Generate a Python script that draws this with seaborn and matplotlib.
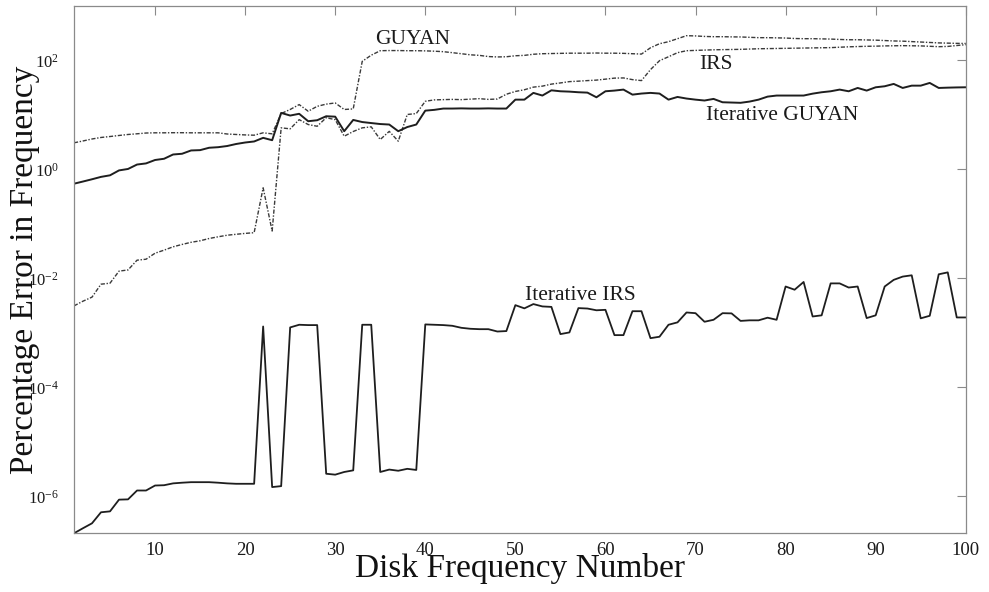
import numpy as np
import pandas as pd
import matplotlib
matplotlib.use("Agg")
import matplotlib.pyplot as plt
import seaborn as sns

# Disk frequency numbers 1..100
freq_number = list(range(1, 101))

# Percentage error in frequency for each reduction method
guyan = [
    3.08, 3.33, 3.62, 3.86, 4.02, 4.2, 4.38, 4.51, 4.66, 4.70,
    4.70, 4.72, 4.72, 4.70, 4.70, 4.70, 4.70, 4.47, 4.38, 4.3,
    4.25, 4.7, 4.5, 10.6, 12.6, 15.5, 11.7, 14.4, 15.8, 16.6,
    12.6, 12.9, 96.3, 125, 151, 152, 152, 151, 151, 150,
    148, 145, 139, 133, 127, 124, 118, 116, 117, 122,
    124, 130, 133, 134, 135, 136, 136, 136, 137, 136,
    136, 135, 133, 131, 171, 203, 221, 251, 285, 282,
    276, 273, 273, 271, 270, 266, 262, 262, 260, 258,
    253, 251, 251, 249, 247, 243, 240, 240, 238, 236,
    232, 228, 226, 222, 218, 214, 210, 208, 206, 205,
]

irs = [
    3.13e-3, 3.82e-3, 4.53e-3, 7.83e-3, 8.17e-3, 1.36e-2, 1.43e-2, 2.16e-2, 2.25e-2, 2.9e-2,
    3.3e-2, 3.8e-2, 4.2e-2, 4.6e-2, 4.9e-2, 5.4e-2, 5.8e-2, 6.2e-2, 6.45e-2, 6.7e-2,
    6.9e-2, 0.46, 7.4e-2, 5.8, 5.56, 8.2, 6.67, 6.2, 8.9, 8.2,
    4.07, 4.97, 5.8, 6.05, 3.54, 5.0, 3.3, 10.2, 10.6, 17.8,
    18.9, 19.1, 19.3, 19.1, 19.5, 19.9, 19.3, 19.6, 24.0, 27.0,
    29.0, 32.4, 33.8, 36.8, 38.7, 40.9, 41.7, 42.7, 43.6, 45.4,
    47.4, 47.8, 44.5, 42.7, 67.9, 99, 117, 139, 151, 153,
    155, 157, 158, 159, 160, 162, 164, 165, 166, 167,
    168, 169, 170, 171, 172, 175, 178, 180, 182, 183,
    185, 186, 187, 186, 185, 182, 179, 181, 188, 195,
]

iterative_guyan = [
    0.547, 0.60, 0.66, 0.73, 0.78, 0.96, 1.02, 1.23, 1.29, 1.49,
    1.57, 1.88, 1.94, 2.23, 2.26, 2.50, 2.56, 2.69, 2.93, 3.12,
    3.26, 3.80, 3.44, 10.9, 9.75, 10.5, 7.67, 8.0, 9.47, 9.3,
    5.03, 8.1, 7.41, 7.1, 6.81, 6.67, 5.03, 6.0, 6.67, 12.0,
    12.4, 13.1, 13.1, 13.2, 13.1, 13.1, 13.2, 13.1, 13.1, 19.1,
    19.1, 25.4, 22.7, 28.3, 27.2, 26.8, 26.1, 25.7, 21.1, 27.2,
    28.0, 29.2, 23.6, 24.7, 25.4, 24.7, 19.1, 21.4, 20.0, 19.1,
    18.4, 19.7, 17.1, 16.9, 16.7, 17.6, 19.1, 21.7, 22.7, 22.7,
    22.7, 22.7, 24.6, 26.1, 27.2, 29.2, 27.2, 31.3, 28.0, 32.2,
    33.6, 37.1, 31.3, 34.5, 34.5, 38.7, 31.3, 31.7, 32.0, 32.2,
]

iterative_irs = [
    2.1e-7, 2.6e-7, 3.2e-7, 5.1e-7, 5.3e-7, 8.7e-7, 8.8e-7, 1.28e-6, 1.28e-6, 1.58e-6,
    1.6e-6, 1.73e-6, 1.78e-6, 1.82e-6, 1.82e-6, 1.82e-6, 1.78e-6, 1.73e-6, 1.7e-6, 1.7e-6,
    1.7e-6, 1.31e-3, 1.48e-6, 1.54e-6, 1.26e-3, 1.41e-3, 1.39e-3, 1.39e-3, 2.6e-6, 2.5e-6,
    2.8e-6, 3.0e-6, 1.41e-3, 1.41e-3, 2.8e-6, 3.1e-6, 2.95e-6, 3.2e-6, 3.05e-6, 1.43e-3,
    1.41e-3, 1.39e-3, 1.35e-3, 1.24e-3, 1.19e-3, 1.17e-3, 1.17e-3, 1.06e-3, 1.08e-3, 3.23e-3,
    2.82e-3, 3.38e-3, 3.06e-3, 3.0e-3, 9.5e-4, 1.02e-3, 2.85e-3, 2.8e-3, 2.6e-3, 2.65e-3,
    9.1e-4, 9.1e-4, 2.5e-3, 2.5e-3, 8.0e-4, 8.5e-4, 1.41e-3, 1.56e-3, 2.37e-3, 2.3e-3,
    1.6e-3, 1.74e-3, 2.3e-3, 2.28e-3, 1.66e-3, 1.7e-3, 1.7e-3, 1.9e-3, 1.74e-3, 7.1e-3,
    6.2e-3, 8.6e-3, 2.0e-3, 2.1e-3, 8.1e-3, 8.1e-3, 6.8e-3, 7.1e-3, 1.87e-3, 2.1e-3,
    7.1e-3, 9.4e-3, 1.08e-2, 1.14e-2, 1.85e-3, 2.06e-3, 1.19e-2, 1.29e-2, 1.92e-3, 1.92e-3,
]

# Axis ticks and labels
x_ticks = [10, 20, 30, 40, 50, 60, 70, 80, 90, 100]
y_ticks = [1e-6, 1e-4, 1e-2, 1e0, 1e2]
y_tick_labels = [r"$10^{-6}$", r"$10^{-4}$", r"$10^{-2}$", r"$10^{0}$", r"$10^{2}$"]

# Curve names written next to each curve: (text, x, y)
curve_names = [
    ("GUYAN", 38.6, 200.0),
    ("IRS", 72.3, 69.9),
    ("Iterative GUYAN", 79.6, 8.0),
    ("Iterative IRS", 57.2, 4.04e-3),
]

sns.set_theme(style="white")
plt.rcParams["font.family"] = ["Liberation Serif", "DejaVu Serif"]
plt.rcParams["mathtext.fontset"] = "custom"
plt.rcParams["mathtext.rm"] = "Liberation Serif"
plt.rcParams["mathtext.it"] = "Liberation Serif:italic"
plt.rcParams["mathtext.bf"] = "Liberation Serif:bold"

df = pd.DataFrame({
    "n": freq_number,
    "GUYAN": guyan,
    "IRS": irs,
    "Iterative GUYAN": iterative_guyan,
    "Iterative IRS": iterative_irs,
})

fig = plt.figure(figsize=(9.89, 5.92), dpi=100)
ax = fig.add_axes([0.0748, 0.0992, 0.9017, 0.8907])

dashdot = (0, (3.0, 1.2, 1.0, 1.2))
sns.lineplot(data=df, x="n", y="GUYAN", ax=ax, color="#3a3a3a", lw=1.0, linestyle=dashdot)
sns.lineplot(data=df, x="n", y="IRS", ax=ax, color="#3a3a3a", lw=1.0, linestyle=dashdot)
sns.lineplot(data=df, x="n", y="Iterative GUYAN", ax=ax, color="#1e1e1e", lw=1.4)
sns.lineplot(data=df, x="n", y="Iterative IRS", ax=ax, color="#1e1e1e", lw=1.3)

ax.set_yscale("log")
ax.set_xlim(1, 100)
ax.set_ylim(iterative_irs[0], 1e3)

ax.set_xticks(x_ticks)
ax.set_yticks(y_ticks)
ax.set_yticklabels(y_tick_labels)
ax.minorticks_off()
ax.tick_params(axis="both", which="major", direction="in", top=True, right=True,
               length=6.5, width=0.8, color="#8a8a8a", labelcolor="#1a1a1a")
ax.tick_params(axis="x", labelsize=13.5, pad=6)
ax.tick_params(axis="y", labelsize=12, pad=11)

for spine in ax.spines.values():
    spine.set_color("#8a8a8a")
    spine.set_linewidth(0.9)

ax.set_xlabel("Disk Frequency Number", fontsize=24, color="#111111")
ax.set_ylabel("Percentage Error in Frequency", fontsize=24, color="#111111")
ax.xaxis.set_label_coords(0.5, -0.038)
ax.yaxis.set_label_coords(-0.038, 0.5)

for text, xpos, ypos in curve_names:
    ax.text(xpos, ypos, text, ha="center", va="baseline", fontsize=15.5, color="#1a1a1a")

fig.savefig("out.png", dpi=100)
